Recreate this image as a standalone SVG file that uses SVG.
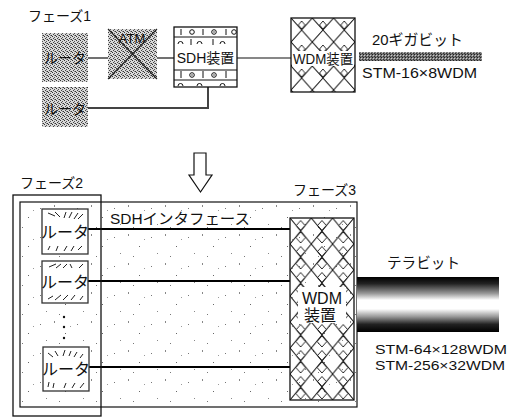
<svg xmlns="http://www.w3.org/2000/svg" width="515" height="417" viewBox="0 0 515 417">
<style>
text{font-family:"Liberation Sans","Noto Sans CJK JP",sans-serif;fill:#111}
.box{fill:#fff;stroke:#111;stroke-width:1.3}
.thin{stroke:#111;stroke-width:1;fill:none}
.link{stroke:#111;stroke-width:1.2;fill:none}
.thick{stroke:#000;stroke-width:2.2;fill:none}
.burst{stroke:#222;stroke-width:1;fill:none}
</style>
<defs>
<pattern id="dither" width="4" height="4" patternUnits="userSpaceOnUse">
<rect width="4" height="4" fill="#d8d8d8"/>
<rect x="0" y="0" width="1" height="1" fill="#333"/>
<rect x="2" y="1" width="1" height="1" fill="#555"/>
<rect x="1" y="2" width="1" height="1" fill="#444"/>
<rect x="3" y="3" width="1" height="1" fill="#333"/>
<rect x="2" y="3" width="1" height="1" fill="#888"/>
</pattern>
<pattern id="bar" width="3" height="3" patternUnits="userSpaceOnUse">
<rect width="3" height="3" fill="#777"/>
<rect x="0" y="0" width="1" height="1" fill="#222"/>
<rect x="1" y="1" width="1" height="1" fill="#ccc"/>
<rect x="2" y="2" width="1" height="1" fill="#333"/>
</pattern>
<pattern id="diam1" width="21.3" height="24" patternUnits="userSpaceOnUse" x="291" y="18">
<path d="M0 0L10.65 12L0 24M21.3 0L10.65 12L21.3 24" fill="none" stroke="#111" stroke-width="1"/>
<path d="M10.65 3L14 7L10.65 11L7.3 7Z" fill="none" stroke="#111" stroke-width="0.9"/>
</pattern>
<pattern id="diam3" width="21.3" height="26" patternUnits="userSpaceOnUse" x="290" y="218">
<path d="M0 0L10.65 13L0 26M21.3 0L10.65 13L21.3 26" fill="none" stroke="#111" stroke-width="1"/>
<path d="M10.65 2.5L15 7.5L10.65 12.5L6.3 7.5Z" fill="none" stroke="#111" stroke-width="0.9"/>
<path d="M10.65 14L15.5 19.5L10.65 25L5.8 19.5Z" fill="none" stroke="#111" stroke-width="0.9"/>
</pattern>
<pattern id="specks" width="37" height="29" patternUnits="userSpaceOnUse">
<rect x="3" y="5" width="1" height="1" fill="#777"/>
<rect x="17" y="2" width="1" height="2" fill="#888"/>
<rect x="28" y="14" width="1" height="1" fill="#666"/>
<rect x="9" y="21" width="1" height="1" fill="#888"/>
<rect x="22" y="24" width="1" height="1" fill="#777"/>
<rect x="33" y="7" width="1" height="1" fill="#999"/>
</pattern>
<linearGradient id="fiber" x1="0" y1="0" x2="0" y2="1">
<stop offset="0" stop-color="#000"/>
<stop offset="0.12" stop-color="#222"/>
<stop offset="0.3" stop-color="#999"/>
<stop offset="0.42" stop-color="#fff"/>
<stop offset="0.58" stop-color="#fff"/>
<stop offset="0.72" stop-color="#999"/>
<stop offset="0.86" stop-color="#222"/>
<stop offset="1" stop-color="#000"/>
</linearGradient>
</defs>
<rect width="515" height="417" fill="#fff"/>

<!-- Phase 1 -->
<text x="28" y="21" font-size="14">フェーズ1</text>

<g id="connectors">
<path class="link" d="M88 58H108"/>
<path class="link" d="M157 58H174"/>
<path class="link" d="M237 58H291"/>
<path d="M88 108H208V87" fill="none" stroke="#444" stroke-width="2"/>
<path class="thick" d="M88 229H290"/>
<path class="thick" d="M88 281H290"/>
<path class="thick" d="M88 367H290"/>
</g>

<g id="router1a">
<rect x="42" y="33" width="46" height="49" fill="url(#dither)"/>
<text x="65" y="63" font-size="14" text-anchor="middle">ルータ</text>
</g>
<g id="router1b">
<rect x="42" y="87" width="46" height="40" fill="url(#dither)"/>
<text x="65" y="114" font-size="14" text-anchor="middle">ルータ</text>
</g>
<g id="atm">
<rect x="108" y="29" width="49" height="50" fill="url(#dither)"/>
<path d="M108 29L157 79M157 29L108 79" stroke="#222" stroke-width="1.1"/>
<text x="132" y="43" font-size="13" text-anchor="middle">ATM</text>
</g>
<g id="sdh">
<rect class="box" x="174" y="27" width="63" height="60"/>
<path class="thin" d="M174 37H237M174 70H237M174 80H237"/>
<path class="thin" d="M181 29V35M203 29V35M226 29V35M191 39V45M213 39V45M181 71V78M203 71V78M226 71V78"/>
<circle cx="192" cy="32" r="2.3" class="thin"/>
<circle cx="214" cy="32" r="2.3" class="thin"/>
<circle cx="214" cy="32" r="0.7" fill="#111"/>
<circle cx="234" cy="32" r="2.3" class="thin"/>
<path class="thin" d="M178 44a2.5 2.5 0 0 1 5 0M197 44a2.5 2.5 0 0 1 5 0M220 44a2.5 2.5 0 0 1 5 0"/>
<circle cx="192" cy="75" r="2.3" class="thin"/>
<circle cx="192" cy="75" r="0.7" fill="#111"/>
<circle cx="214" cy="75" r="2.3" class="thin"/>
<circle cx="214" cy="75" r="0.7" fill="#111"/>
<path class="thin" d="M178 86a2.5 2.5 0 0 1 5 0M197 86a2.5 2.5 0 0 1 5 0M220 86a2.5 2.5 0 0 1 5 0"/>
<text x="205.5" y="63" font-size="14" text-anchor="middle">SDH装置</text>
</g>
<g id="wdm1">
<rect x="291" y="18" width="64" height="74" fill="url(#diam1)" stroke="#111" stroke-width="1.3"/>
<rect x="292" y="51" width="62" height="15" fill="#fff"/>
<text x="323" y="63.5" font-size="14" text-anchor="middle" textLength="60" lengthAdjust="spacingAndGlyphs">WDM装置</text>
</g>
<g id="giga">
<text x="372" y="45" font-size="15" textLength="91" lengthAdjust="spacingAndGlyphs">20ギガビット</text>
<rect x="359" y="52" width="123" height="9" fill="url(#bar)"/>
<text x="362" y="78" font-size="15" textLength="115" lengthAdjust="spacingAndGlyphs">STM-16×8WDM</text>
</g>

<!-- Arrow -->
<g id="arrow">
<path d="M194 153H206V175H212L200.5 192L189 175H194Z" fill="#fff" stroke="#111" stroke-width="1.2"/>
</g>

<!-- Phase 3 frame -->
<g id="phase3">
<rect x="20" y="202" width="337" height="205" fill="url(#specks)" stroke="#111" stroke-width="1.2"/>
<text x="293" y="195" font-size="14">フェーズ3</text>
<text x="110" y="224" font-size="15" textLength="140" lengthAdjust="spacingAndGlyphs">SDHインタフェース</text>
</g>

<!-- Phase 2 frame -->
<g id="phase2">
<rect x="13" y="195" width="88" height="221" fill="none" stroke="#111" stroke-width="1.3"/>
<text x="20" y="188" font-size="14">フェーズ2</text>
</g>

<g id="router2a">
<rect x="42" y="209" width="46" height="45" fill="#fff" stroke="#333" stroke-width="1.3"/>
<path class="burst" d="M48 213L55 216M55 212L60 217M66 212L64 218M72 212L69 218M78 213L74 219M83 214L78 219M48 250L50 246M56 251L58 246M64 251L67 246M71 251L74 246M78 250L82 246"/>
<text x="65" y="238" font-size="16" text-anchor="middle">ルータ</text>
</g>
<g id="router2b">
<rect x="42" y="261" width="46" height="42" fill="#fff" stroke="#333" stroke-width="1.3"/>
<path class="burst" d="M49 267L56 264M56 268L61 264M63 268L67 264M72 268L70 264M79 268L83 264M48 299L53 296M55 300L61 295M63 300L68 295M71 300L75 295M80 300L83 296"/>
<text x="65" y="288" font-size="16" text-anchor="middle">ルータ</text>
</g>
<g id="dots">
<circle cx="64" cy="317" r="1.2" fill="#111"/>
<circle cx="64" cy="327" r="1.2" fill="#111"/>
<circle cx="64" cy="338" r="1.2" fill="#111"/>
</g>
<g id="router2c">
<rect x="43" y="347" width="46" height="44" fill="#fff" stroke="#333" stroke-width="1.3"/>
<path class="burst" d="M48 353L53 357M55 351L58 356M65 350L63 356M71 351L69 356M77 352L74 357M83 354L80 358M48 387L49 382M53 388L54 383M64 388L66 383M72 388L75 383M80 388L84 383"/>
<text x="66" y="375" font-size="16" text-anchor="middle">ルータ</text>
</g>

<g id="wdm3">
<rect x="290" y="218" width="64" height="182" fill="url(#diam3)" stroke="#111" stroke-width="1.3"/>
<rect x="298" y="287" width="48" height="36" fill="#fff"/>
<text x="322" y="304" font-size="16" text-anchor="middle">WDM</text>
<text x="320" y="321" font-size="16" text-anchor="middle">装置</text>
</g>

<g id="tera">
<text x="387" y="268" font-size="15" textLength="73" lengthAdjust="spacingAndGlyphs">テラビット</text>
<rect x="357" y="277" width="142" height="55" fill="url(#fiber)"/>
<text x="375" y="354" font-size="13.5" textLength="132" lengthAdjust="spacingAndGlyphs">STM-64×128WDM</text>
<text x="375" y="370" font-size="13.5" textLength="130" lengthAdjust="spacingAndGlyphs">STM-256×32WDM</text>
</g>
</svg>
